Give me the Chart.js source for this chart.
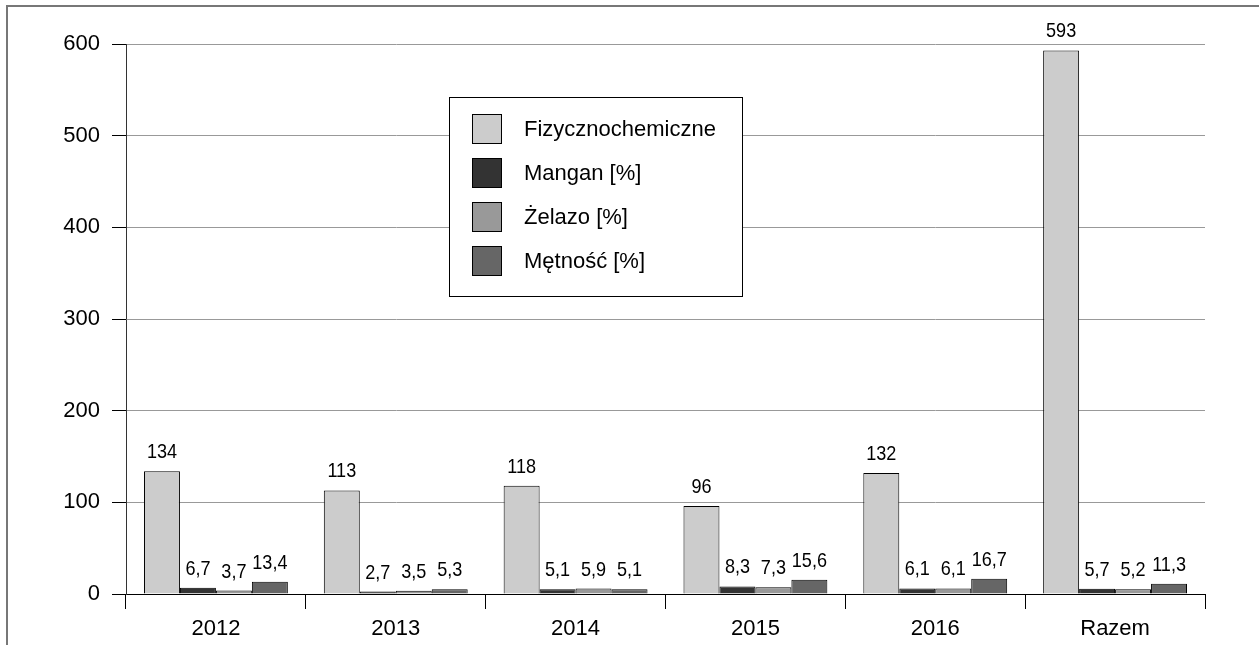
<!DOCTYPE html>
<html>
<head>
<meta charset="utf-8">
<script src="https://cdn.jsdelivr.net/npm/chart.js@4"></script>
<style>
  body { margin: 0; background: #fff; }
  #wrap { width: 1259px; height: 645px; position: relative; }
</style>
</head>
<body>
<div id="wrap"><canvas id="wykres"></canvas></div>
<script>
const lata = ['2012', '2013', '2014', '2015', '2016', 'Razem'];
const fizyko = [134, 113, 118, 96, 132, 593];
const mangan = [6.7, 2.7, 5.1, 8.3, 6.1, 5.7];
const zelazo = [3.7, 3.5, 5.9, 7.3, 6.1, 5.2];
const metnosc = [13.4, 5.3, 5.1, 15.6, 16.7, 11.3];
const yTicks = [0, 100, 200, 300, 400, 500, 600];

Chart.defaults.font.family = "'Liberation Sans', Arial, sans-serif";
Chart.defaults.color = '#000';

const fmt = v => String(v).replace('.', ',');

// etykiety nad slupkami (lekko zwezone, jak w oryginale)
const etykiety = {
  id: 'etykiety',
  afterDatasetsDraw(chart) {
    const { ctx } = chart;
    ctx.save();
    ctx.font = "21px 'Liberation Sans', Arial, sans-serif";
    ctx.fillStyle = '#000';
    ctx.textAlign = 'center';
    ctx.textBaseline = 'alphabetic';
    chart.data.datasets.forEach((ds, i) => {
      chart.getDatasetMeta(i).data.forEach((bar, j) => {
        ctx.save();
        ctx.translate(bar.x, bar.y - 13);
        ctx.scale(0.86, 1);
        ctx.fillText(fmt(ds.data[j]), 0, 0);
        ctx.restore();
      });
    });
    ctx.restore();
  }
};

// legenda w ramce + obramowanie rysunku
const legendaRamka = {
  id: 'legendaRamka',
  afterDraw(chart) {
    const { ctx } = chart;
    ctx.save();
    ctx.strokeStyle = '#777';
    ctx.lineWidth = 2;
    ctx.beginPath();
    ctx.moveTo(6, 6);
    ctx.lineTo(1259, 6);
    ctx.moveTo(7, 5);
    ctx.lineTo(7, 645);
    ctx.stroke();

    ctx.fillStyle = '#fff';
    ctx.fillRect(449.5, 97.5, 293, 199);
    ctx.strokeStyle = '#000';
    ctx.lineWidth = 1;
    ctx.strokeRect(449.5, 97.5, 293, 199);

    ctx.font = "22px 'Liberation Sans', Arial, sans-serif";
    ctx.textAlign = 'left';
    ctx.textBaseline = 'middle';
    chart.data.datasets.forEach((ds, i) => {
      const y = 114 + i * 44;
      ctx.fillStyle = ds.backgroundColor;
      ctx.fillRect(472.5, y + 0.5, 29, 29);
      ctx.strokeStyle = '#000';
      ctx.strokeRect(472.5, y + 0.5, 29, 29);
      ctx.fillStyle = '#000';
      ctx.fillText(ds.label, 524, y + 16);
    });
    ctx.restore();
  }
};

new Chart(document.getElementById('wykres'), {
  type: 'bar',
  data: {
    labels: lata,
    datasets: [
      { label: 'Fizycznochemiczne', data: fizyko, backgroundColor: '#cccccc' },
      { label: 'Mangan [%]', data: mangan, backgroundColor: '#333333' },
      { label: 'Żelazo [%]', data: zelazo, backgroundColor: '#999999' },
      { label: 'Mętność [%]', data: metnosc, backgroundColor: '#666666' }
    ].map(d => Object.assign(d, {
      borderColor: '#000',
      borderWidth: 1,
      categoryPercentage: 0.8,
      barPercentage: 1.0
    }))
  },
  options: {
    responsive: true,
    maintainAspectRatio: false,
    animation: false,
    layout: { padding: { top: 44, right: 54, left: 0, bottom: 0 } },
    plugins: {
      legend: { display: false },
      tooltip: { enabled: false }
    },
    scales: {
      x: {
        offset: true,
        grid: { drawOnChartArea: false, drawTicks: true, tickLength: 15, tickColor: '#000', offset: true },
        border: { color: '#000' },
        ticks: { font: { size: 22 }, color: '#000', padding: 7 },
        afterFit: s => { s.height = 51; }
      },
      y: {
        min: 0,
        max: 600,
        afterBuildTicks: s => { s.ticks = yTicks.map(v => ({ value: v })); },
        grid: { color: '#999', tickColor: '#000', tickLength: 14 },
        border: { color: '#333' },
        ticks: { font: { size: 22 }, color: '#000', padding: 12 },
        afterFit: s => { s.width = 126; }
      }
    }
  },
  plugins: [etykiety, legendaRamka]
});
</script>
</body>
</html>
